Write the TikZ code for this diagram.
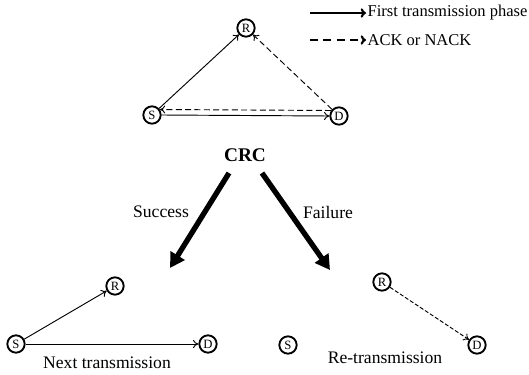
\documentclass[tikz,border=0pt]{standalone}
\usepackage{fontspec}
\setmainfont{Liberation Serif}
\usetikzlibrary{arrows.meta}
\tikzset{
  nd/.style={circle,draw,line width=1.4pt,minimum size=13pt,inner sep=0pt,font=\fontsize{9.5}{9.5}\selectfont},
  tx/.style={font=\fontsize{13.2}{15}\selectfont},
  lg/.style={font=\fontsize{12.4}{14}\selectfont,anchor=west,inner sep=1pt},
  fw/.style={-{To[length=4pt,width=6pt]},line width=0.7pt},
  bk/.style={-{To[length=4pt,width=6pt]},line width=0.7pt,dash pattern=on 4.5pt off 2.5pt},
  big/.style={-{Triangle[length=11pt,width=12pt]},line width=4pt}
}
\begin{document}
\begin{tikzpicture}[x=0.75pt,y=-0.75pt]
	\useasboundingbox (0,0) rectangle (529,375);
	% legend
	\coordinate (la) at (310,13);
	\coordinate (lb) at (366,13);
	\coordinate (lc) at (310,40);
	\coordinate (ld) at (366,40);
	\draw[-{To[length=4pt,width=7pt]},line width=1.6pt] (la) -- (lb);
	\draw[-{To[length=4pt,width=7pt]},line width=1.6pt,dash pattern=on 6pt off 4pt] (lc) -- (ld);
	\node[lg] (l1) at (lb) {First transmission phase};
	\node[lg] (l2) at (ld) {ACK or NACK};
	% first phase
	\node[nd] (r1) at (246,28) {R};
	\node[nd] (s1) at (152,115) {S};
	\node[nd] (d1) at (339,116) {D};
	\draw[fw] (s1) -- (r1);
	\draw[bk] (d1) -- (r1);
	\draw[bk] (d1.145) -- (s1.35);
	\draw[fw] (s1.east) -- (d1.west);
	% CRC
	\node[tx,font=\fontsize{14.5}{16}\selectfont\bfseries] (crc) at (245,155) {CRC};
	\coordinate (ok) at (170,268);
	\coordinate (ko) at (330,270);
	\draw[big] (229,173) -- (ok);
	\draw[big] (262,173) -- (ko);
	\node[tx] (succ) at (161,212) {Success};
	\node[tx] (fail) at (328,212) {Failure};
	% next transmission
	\node[nd] (r2) at (115,286) {R};
	\node[nd] (s2) at (16,344) {S};
	\node[nd] (d2) at (208,344) {D};
	\draw[fw] (s2) -- (r2);
	\draw[fw] (s2) -- (d2);
	\node[tx] (nxt) at (107,363) {Next transmission};
	% retransmission
	\node[nd] (r3) at (382,282) {R};
	\node[nd] (s3) at (288,345) {S};
	\node[nd] (d3) at (477,345) {D};
	\draw[fw,dash pattern=on 3pt off 1.5pt] (r3) -- (d3);
	\node[tx] (re) at (385,358) {Re-transmission};
\end{tikzpicture}
\end{document}
